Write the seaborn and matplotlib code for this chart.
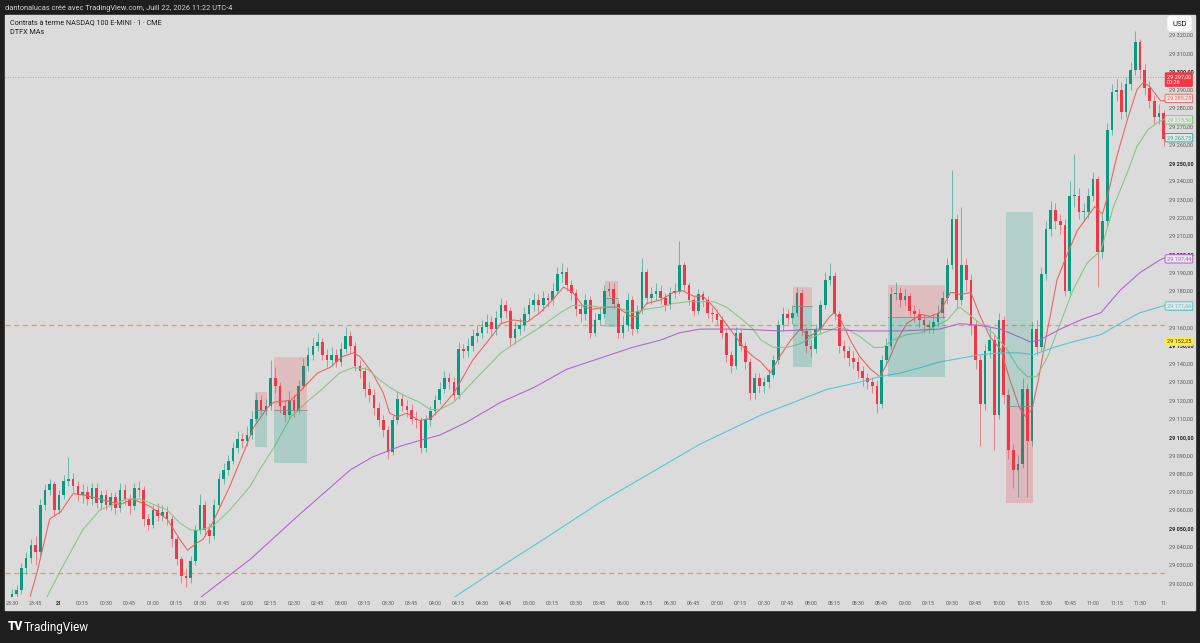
import numpy as np
import pandas as pd
import matplotlib
matplotlib.use("Agg")
import matplotlib.pyplot as plt
import matplotlib.transforms as mtransforms
from matplotlib.patches import Rectangle
import seaborn as sns

# NQ 1 min chart, drawn as 3-minute bars starting 23:30 (minute 0)
first_open = 29010
closes = [29014, 29016, 29028, 29034, 29041, 29037, 29063, 29071, 29074, 29060,
          29068, 29076, 29077, 29073, 29068, 29070, 29066, 29072, 29064, 29068,
          29063, 29067, 29061, 29071, 29066, 29062, 29072, 29071, 29055, 29052,
          29060, 29057, 29059, 29055, 29044, 29033, 29024, 29023, 29032, 29049,
          29063, 29049, 29046, 29063, 29077, 29082, 29087, 29094, 29099, 29098,
          29101, 29110, 29120, 29115, 29117, 29132, 29128, 29117, 29112, 29120,
          29115, 29128, 29139, 29145, 29150, 29152, 29145, 29142, 29145, 29141,
          29148, 29155, 29150, 29139, 29136, 29126, 29123, 29116, 29109, 29104,
          29092, 29109, 29121, 29117, 29115, 29110, 29109, 29094, 29109, 29114,
          29120, 29126, 29132, 29130, 29123, 29148, 29147, 29150, 29155, 29157,
          29160, 29163, 29159, 29165, 29172, 29169, 29154, 29159, 29161, 29167,
          29172, 29175, 29172, 29176, 29175, 29180, 29189, 29190, 29183, 29179,
          29170, 29167, 29175, 29157, 29164, 29167, 29180, 29181, 29173, 29157,
          29161, 29175, 29159, 29169, 29190, 29176, 29178, 29180, 29176, 29172,
          29179, 29180, 29194, 29183, 29175, 29169, 29178, 29175, 29168, 29167,
          29164, 29157, 29145, 29139, 29157, 29150, 29141, 29124, 29132, 29128,
          29130, 29134, 29142, 29161, 29167, 29165, 29168, 29179, 29158, 29150,
          29148, 29159, 29172, 29186, 29188, 29167, 29150, 29147, 29143, 29141,
          29136, 29132, 29130, 29128, 29118, 29142, 29150, 29178, 29179, 29175,
          29177, 29169, 29167, 29164, 29161, 29160, 29163, 29168, 29176, 29194,
          29219, 29175, 29194, 29186, 29161, 29142, 29118, 29147, 29153, 29112,
          29164, 29123, 29093, 29082, 29085, 29126, 29098, 29159, 29149, 29189,
          29214, 29224, 29218, 29216, 29180, 29232, 29232, 29223, 29223, 29232,
          29241, 29201, 29218, 29268, 29289, 29290, 29278, 29293, 29301, 29316,
          29301, 29291, 29284, 29275, 29277, 29263]
highs = [29017, 29019, 29031, 29037, 29044, 29046, 29066, 29074, 29077, 29076,
         29071, 29079, 29089, 29080, 29076, 29074, 29073, 29075, 29075, 29071,
         29071, 29070, 29070, 29075, 29074, 29069, 29075, 29076, 29073, 29058,
         29063, 29064, 29063, 29062, 29057, 29046, 29035, 29028, 29035, 29052,
         29069, 29065, 29053, 29066, 29080, 29086, 29090, 29097, 29103, 29102,
         29106, 29114, 29124, 29123, 29121, 29142, 29138, 29130, 29120, 29125,
         29123, 29131, 29143, 29149, 29154, 29157, 29154, 29148, 29149, 29148,
         29152, 29160, 29158, 29152, 29142, 29138, 29130, 29126, 29119, 29112,
         29106, 29112, 29125, 29124, 29120, 29118, 29114, 29111, 29112, 29117,
         29123, 29130, 29136, 29135, 29133, 29152, 29151, 29154, 29159, 29161,
         29164, 29167, 29166, 29169, 29176, 29175, 29171, 29163, 29165, 29171,
         29176, 29179, 29178, 29180, 29179, 29184, 29193, 29195, 29193, 29186,
         29181, 29173, 29178, 29177, 29168, 29171, 29183, 29185, 29184, 29175,
         29166, 29179, 29177, 29172, 29198, 29192, 29182, 29184, 29183, 29179,
         29182, 29184, 29207, 29196, 29185, 29177, 29181, 29180, 29177, 29171,
         29170, 29166, 29159, 29147, 29160, 29159, 29152, 29143, 29135, 29135,
         29133, 29137, 29145, 29164, 29171, 29170, 29172, 29182, 29181, 29160,
         29153, 29162, 29175, 29190, 29195, 29190, 29169, 29153, 29150, 29147,
         29144, 29139, 29135, 29133, 29131, 29145, 29154, 29182, 29185, 29182,
         29181, 29179, 29172, 29170, 29167, 29164, 29167, 29172, 29180, 29198,
         29246, 29222, 29226, 29198, 29189, 29164, 29145, 29151, 29160, 29156,
         29168, 29166, 29126, 29096, 29090, 29132, 29129, 29163, 29164, 29193,
         29218, 29229, 29228, 29222, 29219, 29240, 29255, 29236, 29228, 29236,
         29245, 29243, 29222, 29272, 29293, 29296, 29294, 29297, 29305, 29322,
         29318, 29304, 29295, 29287, 29282, 29279]
lows = [29008, 29010, 29014, 29025, 29031, 29030, 29035, 29060, 29068, 29057,
        29058, 29066, 29073, 29070, 29065, 29064, 29063, 29063, 29061, 29060,
        29060, 29060, 29058, 29059, 29063, 29058, 29060, 29067, 29051, 29049,
        29050, 29054, 29054, 29052, 29040, 29030, 29020, 29018, 29020, 29030,
        29047, 29046, 29042, 29044, 29061, 29074, 29079, 29085, 29091, 29094,
        29095, 29099, 29108, 29112, 29112, 29115, 29124, 29113, 29108, 29110,
        29111, 29113, 29126, 29136, 29142, 29147, 29142, 29138, 29139, 29138,
        29139, 29146, 29146, 29136, 29132, 29122, 29119, 29112, 29106, 29100,
        29088, 29090, 29107, 29114, 29111, 29107, 29105, 29091, 29092, 29106,
        29112, 29118, 29124, 29126, 29120, 29121, 29143, 29144, 29147, 29152,
        29154, 29157, 29155, 29156, 29162, 29165, 29150, 29151, 29156, 29158,
        29164, 29169, 29168, 29169, 29171, 29172, 29178, 29185, 29180, 29175,
        29166, 29163, 29164, 29154, 29155, 29161, 29165, 29177, 29170, 29154,
        29154, 29158, 29156, 29157, 29167, 29173, 29173, 29175, 29173, 29169,
        29170, 29176, 29178, 29180, 29172, 29166, 29167, 29171, 29165, 29163,
        29161, 29154, 29141, 29135, 29137, 29147, 29137, 29120, 29121, 29124,
        29124, 29127, 29132, 29140, 29158, 29162, 29162, 29166, 29155, 29146,
        29144, 29146, 29157, 29170, 29183, 29164, 29146, 29143, 29139, 29137,
        29132, 29128, 29126, 29124, 29113, 29116, 29139, 29148, 29175, 29171,
        29172, 29166, 29163, 29160, 29157, 29157, 29157, 29160, 29165, 29173,
        29192, 29170, 29172, 29180, 29156, 29137, 29095, 29115, 29143, 29093,
        29110, 29118, 29088, 29072, 29067, 29083, 29067, 29095, 29145, 29147,
        29186, 29210, 29214, 29211, 29177, 29178, 29226, 29219, 29218, 29220,
        29229, 29182, 29198, 29215, 29265, 29284, 29274, 29275, 29290, 29298,
        29296, 29287, 29280, 29271, 29271, 29259]

# DTFX MAs (minute since 23:30, price)
fast_t = [10, 16, 24, 31, 39, 47, 56, 69, 77, 88, 99, 107, 112, 118, 122, 128, 139, 149, 154, 163,
          167, 178, 186, 195, 203, 211, 218, 222, 230, 237, 241, 246, 252, 260, 267, 273, 282, 294, 307, 312,
          320, 329, 337, 345, 352, 358, 365, 371, 380, 386, 395, 399, 405, 414, 422, 428, 435, 441, 448, 454,
          460, 467, 473, 478, 484, 490, 497, 503, 509, 516, 522, 525, 529, 535, 541, 548, 554, 559, 565, 571,
          580, 586, 592, 599, 601, 605, 612, 618, 624, 631, 637, 643, 647, 651, 655, 661, 667, 673, 680, 686,
          691, 696, 699, 705, 712, 718, 722, 726, 733, 736]
fast_p = [29008, 29026, 29055, 29059, 29069, 29068, 29066, 29063, 29066, 29062, 29055, 29044, 29038, 29042, 29044, 29053, 29073, 29094, 29105, 29116,
          29119, 29120, 29127, 29135, 29138, 29144, 29146, 29144, 29135, 29124, 29113, 29111, 29113, 29109, 29110, 29115, 29124, 29142, 29156, 29162,
          29164, 29163, 29168, 29175, 29182, 29179, 29171, 29170, 29171, 29171, 29166, 29166, 29173, 29175, 29179, 29180, 29177, 29177, 29171, 29164,
          29157, 29149, 29144, 29141, 29135, 29144, 29153, 29159, 29155, 29159, 29166, 29168, 29164, 29153, 29144, 29137, 29133, 29141, 29153, 29162,
          29167, 29166, 29168, 29179, 29179, 29178, 29179, 29166, 29155, 29148, 29131, 29116, 29111, 29115, 29131, 29159, 29186, 29199, 29213, 29220,
          29226, 29222, 29231, 29253, 29274, 29290, 29294, 29292, 29284, 29284]
mid_t = [21, 22, 31, 45, 56, 73, 82, 99, 107, 114, 120, 128, 139, 152, 158, 167, 178, 188, 199, 209,
         218, 227, 235, 243, 252, 260, 267, 273, 282, 294, 312, 324, 337, 350, 358, 367, 375, 386, 396, 405,
         414, 422, 431, 439, 448, 456, 465, 473, 478, 486, 495, 503, 509, 518, 527, 533, 541, 550, 556, 562,
         571, 580, 588, 597, 603, 605, 618, 626, 635, 642, 648, 654, 661, 669, 677, 686, 695, 703, 712, 718,
         725, 731, 736]
mid_p = [29005, 29012, 29027, 29049, 29060, 29066, 29066, 29060, 29053, 29049, 29049, 29051, 29060, 29073, 29082, 29094, 29111, 29119, 29127, 29135,
         29138, 29137, 29131, 29126, 29122, 29119, 29115, 29115, 29119, 29130, 29146, 29153, 29160, 29168, 29172, 29172, 29171, 29171, 29168, 29170,
         29171, 29173, 29174, 29174, 29174, 29171, 29165, 29159, 29153, 29149, 29149, 29151, 29154, 29157, 29160, 29159, 29155, 29149, 29149, 29153,
         29156, 29157, 29160, 29164, 29170, 29171, 29162, 29157, 29148, 29138, 29133, 29133, 29144, 29162, 29180, 29195, 29202, 29226, 29245, 29259,
         29268, 29272, 29274]
slow_t = [114, 120, 152, 184, 216, 230, 248, 260, 273, 290, 312, 333, 354, 375, 396, 414, 426, 439, 465, 490,
          516, 541, 567, 592, 605, 618, 631, 642, 650, 656, 669, 682, 695, 707, 720, 733, 736]
slow_p = [29008, 29012, 29033, 29058, 29082, 29089, 29095, 29098, 29101, 29108, 29119, 29127, 29137, 29143, 29149, 29153, 29157, 29159, 29159, 29158,
          29159, 29158, 29158, 29159, 29162, 29161, 29159, 29155, 29152, 29153, 29159, 29164, 29168, 29180, 29190, 29197, 29198]
vslow_t = [275, 280, 312, 343, 375, 407, 439, 478, 499, 520, 541, 554, 567, 580, 592, 605, 618, 631, 643, 652,
           665, 677, 695, 707, 720, 736]
vslow_p = [29008, 29011, 29029, 29046, 29064, 29080, 29096, 29112, 29119, 29126, 29130, 29133, 29135, 29138, 29141, 29143, 29145, 29146, 29146, 29145,
           29149, 29152, 29156, 29162, 29168, 29172]
ma_names = ["fast", "mid", "slow", "vslow"]
ma_colors = {"fast": "#ef5f5a", "mid": "#86c585", "slow": "#b35fd0", "vslow": "#4fc6d6"}

# position tool boxes: start/end minute, top, entry, bottom, colour of the top part
box_t0 = [155, 167, 378.5, 498.5, 559, 634.5]
box_t1 = [163, 188, 387, 510.5, 595.5, 651.5]
box_top = [29124.6, 29143.8, 29185.3, 29182.1, 29183.2, 29223.1]
box_entry = [29114.8, 29114.8, 29176.0, 29171.7, 29165.7, 29117.0]
box_bottom = [29094.5, 29085.8, 29160.2, 29138.3, 29132.8, 29063.9]
box_top_kind = ["stop", "stop", "stop", "stop", "stop", "target"]

# horizontal levels
last_price = 29297.0
orange_levels = [29161.3, 29025.5]

# right-hand price labels
label_prices = [29285.25, 29273.50, 29263.75, 29197.44, 29171.66, 29152.25]
label_texts = ["29 285,25", "29 273,50", "29 263,75", "29 197,44", "29 171,66", "29 152,25"]
label_colors = ["#ef6a62", "#7fbf80", "#2fa99a", "#b35fd0", "#4fc6d6", "#ffeb3b"]

sns.set_theme(style="white")
plt.rcParams["font.family"] = ["Roboto", "DejaVu Sans"]

BG = "#dbdbdb"
DARK = "#1e1e1e"
UP = "#089981"
DOWN = "#f23645"

fig = plt.figure(figsize=(12, 6.43), dpi=100, facecolor=DARK)
fig.patches.append(Rectangle((5 / 1200, 33 / 643), 1190 / 1200, 595 / 643,
                             transform=fig.transFigure, color=BG, zorder=-5))
ax = fig.add_axes([5 / 1200, 46 / 643, 1160 / 1200, 582 / 643])
ax.set_facecolor(BG)
ax.set_zorder(2)

# candles
n = len(closes)
minutes = np.arange(n) * 3
opens = np.array([first_open] + closes[:-1])
c = np.array(closes)
up = c >= opens
cols = np.where(up, UP, DOWN)
ax.vlines(minutes, lows, highs, colors=cols, linewidth=0.7, alpha=0.55, zorder=3)
body_lo = np.minimum(opens, c)
body_h = np.maximum(np.abs(c - opens), 0.4)
ax.bar(minutes, body_h, bottom=body_lo, width=1.7, color=cols, linewidth=0, zorder=3)

# moving averages
ma_df = pd.concat([
    pd.DataFrame({"minute": fast_t, "price": fast_p, "ma": "fast"}),
    pd.DataFrame({"minute": mid_t, "price": mid_p, "ma": "mid"}),
    pd.DataFrame({"minute": slow_t, "price": slow_p, "ma": "slow"}),
    pd.DataFrame({"minute": vslow_t, "price": vslow_p, "ma": "vslow"}),
])
sns.lineplot(data=ma_df, x="minute", y="price", hue="ma", hue_order=ma_names,
             palette=ma_colors, linewidth=0.75, legend=False, estimator=None,
             sort=False, ax=ax, zorder=4)

# position boxes
for t0, t1, top, entry, bot, kind in zip(box_t0, box_t1, box_top, box_entry, box_bottom, box_top_kind):
    top_col, bot_col = (DOWN, UP) if kind == "stop" else (UP, DOWN)
    ax.add_patch(Rectangle((t0, entry), t1 - t0, top - entry, facecolor=top_col,
                           alpha=0.18, linewidth=0, zorder=5))
    ax.add_patch(Rectangle((t0, bot), t1 - t0, entry - bot, facecolor=bot_col,
                           alpha=0.22, linewidth=0, zorder=5))
    ax.plot([t0, t1], [entry, entry], color="#8a8a8a", lw=0.6, zorder=5)

# levels
ax.axhline(last_price, color="#e07a7a", lw=0.6, ls=(0, (1, 2)), zorder=2)
for lv in orange_levels:
    ax.axhline(lv, color="#ea9a4a", lw=0.9, ls=(0, (4, 3)), zorder=2)

ax.set_xlim(-4.5, 735.9)
ax.set_ylim(29012.4, 29330.9)
for s in ax.spines.values():
    s.set_visible(False)
ax.grid(False)
ax.set_xlabel("")
ax.set_ylabel("")

# price scale
yt = list(range(29020, 29330, 10))
ax.yaxis.tick_right()
ax.set_yticks(yt)
ax.set_yticklabels([f"{v // 1000} {v % 1000:03d},00" for v in yt])
for v, lab in zip(yt, ax.get_yticklabels()):
    if v % 50 == 0:
        lab.set_fontweight("bold")
        lab.set_color("#2a2a2a")
    else:
        lab.set_color("#5a5a5a")
ax.tick_params(axis="y", length=0, pad=3, labelsize=4)

# time scale
xt = list(range(0, 721, 15)) + [735]
xl = []
for m in xt:
    if m == 735:
        xl.append("11:")
        continue
    tot = (23 * 60 + 30 + m) % (24 * 60)
    xl.append("21" if tot == 0 else f"{tot // 60:02d}:{tot % 60:02d}")
ax.set_xticks(xt)
ax.set_xticklabels(xl)
for m, lab in zip(xt, ax.get_xticklabels()):
    lab.set_color("#2a2a2a" if m == 30 else "#5a5a5a")
    if m == 30:
        lab.set_fontweight("bold")
ax.tick_params(axis="x", length=0, pad=3, labelsize=3.8)

# price labels on the right
trans = mtransforms.blended_transform_factory(ax.transAxes, ax.transData)
ax.text(1.0015, last_price - 1.5, "29 297,00\n00:26", transform=trans, ha="left", va="center",
        fontsize=4, color="white", linespacing=1.15, zorder=10, clip_on=False,
        bbox=dict(boxstyle="round,pad=0.3,rounding_size=0.2", fc=DOWN, ec=DOWN, lw=0.5))
for p, txt, col in zip(label_prices, label_texts, label_colors):
    if col == "#ffeb3b":
        bb = dict(boxstyle="round,pad=0.3,rounding_size=0.2", fc=col, ec=col, lw=0.5)
        tc = "#333333"
    else:
        bb = dict(boxstyle="round,pad=0.3,rounding_size=0.2", fc="#e6e6e6", ec=col, lw=0.7)
        tc = col
    ax.text(1.0015, p, txt, transform=trans, ha="left", va="center", fontsize=4,
            color=tc, zorder=10, clip_on=False, bbox=bb)

# header / titles
fig.text(5 / 1200, 1 - 8 / 643, "dantonalucas créé avec TradingView.com, Juill 22, 2026 11:22 UTC-4",
         color="#d6d6d6", fontsize=5.3, va="center", ha="left")
fig.text(10 / 1200, 1 - 23 / 643, "Contrats à terme NASDAQ 100 E-MINI · 1 · CME",
         color="#1e1e1e", fontsize=5.2, va="center", ha="left", zorder=5)
fig.text(10 / 1200, 1 - 32 / 643, "DTFX MAs", color="#1e1e1e", fontsize=5.2, va="center", ha="left", zorder=5)
fig.text(1179.5 / 1200, 1 - 23.5 / 643, "USD", color="#131722", fontsize=5.5, va="center", ha="center",
         zorder=5, bbox=dict(boxstyle="round,pad=0.55,rounding_size=0.3", fc="white", ec="white"))

# TradingView logo
fig.text(8 / 1200, 1 - 627 / 643, "TV", color="white", fontsize=8.5, fontweight="heavy",
         va="center", ha="left")
fig.text(24 / 1200, 1 - 627 / 643, "TradingView", color="white", fontsize=8.5,
         va="center", ha="left")

fig.savefig("out.png", dpi=100, facecolor=DARK)
